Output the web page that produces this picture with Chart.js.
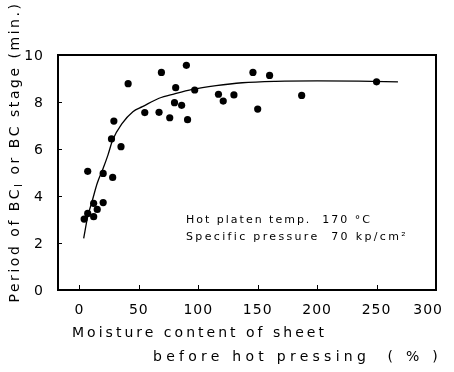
<!DOCTYPE html>
<html><head><meta charset="utf-8">
<script src="https://cdn.jsdelivr.net/npm/chart.js@4"></script>
<style>html,body{margin:0;padding:0;background:#fff}</style>
</head><body>
<canvas id="c" width="454" height="372" style="width:454px;height:372px;display:block"></canvas>
<script>
// Data
const moisture = [4, 7, 7, 12, 12, 15, 20, 20, 28, 27, 29, 35, 41, 55, 67, 69, 76, 80, 81, 86, 90, 91, 97, 117, 121, 130, 146, 150, 160, 187, 250];
const period   = [3.02, 3.26, 5.05, 3.69, 3.12, 3.43, 3.72, 4.96, 4.79, 6.43, 7.19, 6.10, 8.78, 7.55, 7.56, 9.26, 7.33, 7.97, 8.61, 7.86, 9.56, 7.25, 8.51, 8.33, 8.04, 8.30, 9.26, 7.70, 9.13, 8.28, 8.86];
const curveX = [3.6, 7, 11, 15, 20, 24, 28, 36, 45, 53, 67, 80, 95, 115, 137, 165, 200, 235, 268];
const curveY = [2.2, 3.12, 3.83, 4.54, 5.18, 5.74, 6.38, 7.09, 7.59, 7.8, 8.16, 8.35, 8.54, 8.7, 8.82, 8.88, 8.9, 8.89, 8.86];
const xTicks = [0, 50, 100, 150, 200, 250, 300];
const yTicks = [0, 2, 4, 6, 8, 10];
const yTitleParts = ['Period of BC', 'I', ' or BC stage (min.)'];
const xTitle1 = 'Moisture content of sheet';
const xTitle2 = 'before hot pressing  ( % )';
const note1 = 'Hot platen temp.  170 °C';
const note2 = 'Specific pressure  70 kp/cm²';

const INK = '#000';
const FONT = '"DejaVu Sans", sans-serif';
const X_MIN = -18, X_MAX = 300, Y_MIN = 0, Y_MAX = 10;

function fitText(ctx, text, x, y, width, size) {
  ctx.font = size + 'px ' + FONT;
  ctx.letterSpacing = '0px';
  const w = ctx.measureText(text).width;
  const ls = (width - w) / text.length;
  ctx.letterSpacing = ls + 'px';
  ctx.textAlign = 'left';
  ctx.textBaseline = 'middle';
  ctx.fillText(text, x, y);
  ctx.letterSpacing = '0px';
}

function bounds(chart) {
  const xs = chart.scales.x, ys = chart.scales.y;
  return {
    xs, ys,
    L: Math.round(xs.getPixelForValue(X_MIN)),
    R: Math.round(xs.getPixelForValue(X_MAX)),
    T: Math.round(ys.getPixelForValue(Y_MAX)),
    B: Math.round(ys.getPixelForValue(Y_MIN))
  };
}

const frame = {
  id: 'frame',
  beforeDatasetsDraw(chart) {
    const ctx = chart.ctx;
    const { xs, ys, L, R, T, B } = bounds(chart);
    ctx.save();
    ctx.globalCompositeOperation = 'source-over';
    ctx.globalAlpha = 1;
    ctx.fillStyle = INK;
    ctx.fillRect(L - 1, T - 1, R - L + 2, 2);
    ctx.fillRect(L - 1, B - 1, R - L + 2, 2);
    ctx.fillRect(L - 1, T - 1, 2, B - T + 2);
    ctx.fillRect(R - 1, T - 1, 2, B - T + 2);
    xTicks.forEach(v => {
      const px = Math.round(xs.getPixelForValue(v));
      ctx.fillRect(px, B - 5, 1, 5);
    });
    yTicks.forEach(v => {
      const py = Math.round(ys.getPixelForValue(v));
      ctx.fillRect(L, py, 4, 1);
    });
    ctx.restore();
  }
};

const texts = {
  id: 'texts',
  afterDraw(chart) {
    const ctx = chart.ctx;
    const { xs, ys, L, R, B } = bounds(chart);
    ctx.save();
    ctx.fillStyle = INK;
    ctx.font = '14px ' + FONT;
    ctx.letterSpacing = '1px';
    ctx.textBaseline = 'middle';
    ctx.textAlign = 'left';
    xTicks.forEach(v => {
      const s = String(v);
      const w = ctx.measureText(s).width;
      let px = xs.getPixelForValue(v) - w / 2;
      px = Math.min(px, R + 7 - w);
      ctx.fillText(s, px, B + 20);
    });
    yTicks.forEach(v => {
      const s = String(v);
      const w = ctx.measureText(s).width;
      ctx.fillText(s, L - 14 - w, ys.getPixelForValue(v) + 1);
    });
    ctx.letterSpacing = '0px';
    fitText(ctx, note1, 186, 220, 186, 11);
    fitText(ctx, note2, 186, 237, 222, 11);
    fitText(ctx, xTitle1, 72, 333, 255, 14);
    fitText(ctx, xTitle2, 153, 357, 289, 14);
    ctx.save();
    ctx.translate(15, 152);
    ctx.rotate(-Math.PI / 2);
    const mainF = '14px ' + FONT, subF = '10px ' + FONT;
    ctx.letterSpacing = '0px';
    ctx.font = mainF;
    const w0 = ctx.measureText(yTitleParts[0]).width;
    const w2 = ctx.measureText(yTitleParts[2]).width;
    ctx.font = subF;
    const w1 = ctx.measureText(yTitleParts[1]).width;
    const n = yTitleParts[0].length + yTitleParts[1].length + yTitleParts[2].length;
    const target = 301;
    const ls = (target - (w0 + w1 + w2)) / n;
    let x = -target / 2;
    ctx.textAlign = 'left';
    ctx.textBaseline = 'middle';
    ctx.letterSpacing = ls + 'px';
    ctx.font = mainF;
    ctx.fillText(yTitleParts[0], x, 0);
    x += w0 + ls * yTitleParts[0].length;
    ctx.font = subF;
    ctx.fillText(yTitleParts[1], x, 4);
    x += w1 + ls * yTitleParts[1].length;
    ctx.font = mainF;
    ctx.fillText(yTitleParts[2], x, 0);
    ctx.restore();
    ctx.letterSpacing = '0px';
    ctx.restore();
  }
};

new Chart(document.getElementById('c'), {
  type: 'scatter',
  data: {
    datasets: [
      {
        data: moisture.map((m, i) => ({ x: m, y: period[i] })),
        pointRadius: 3.6,
        pointBackgroundColor: INK,
        pointBorderWidth: 0,
        showLine: false
      },
      {
        data: curveX.map((m, i) => ({ x: m, y: curveY[i] })),
        showLine: true,
        borderColor: INK,
        borderWidth: 1.3,
        pointRadius: 0,
        tension: 0.4,
        cubicInterpolationMode: 'monotone',
        fill: false
      }
    ]
  },
  options: {
    responsive: false,
    devicePixelRatio: 1,
    animation: false,
    layout: { padding: { left: 58, top: 55, right: 18, bottom: 82 } },
    plugins: { legend: { display: false }, tooltip: { enabled: false } },
    scales: {
      x: { type: 'linear', min: X_MIN, max: X_MAX, display: false },
      y: { type: 'linear', min: Y_MIN, max: Y_MAX, display: false }
    }
  },
  plugins: [frame, texts]
});
</script>
</body></html>
